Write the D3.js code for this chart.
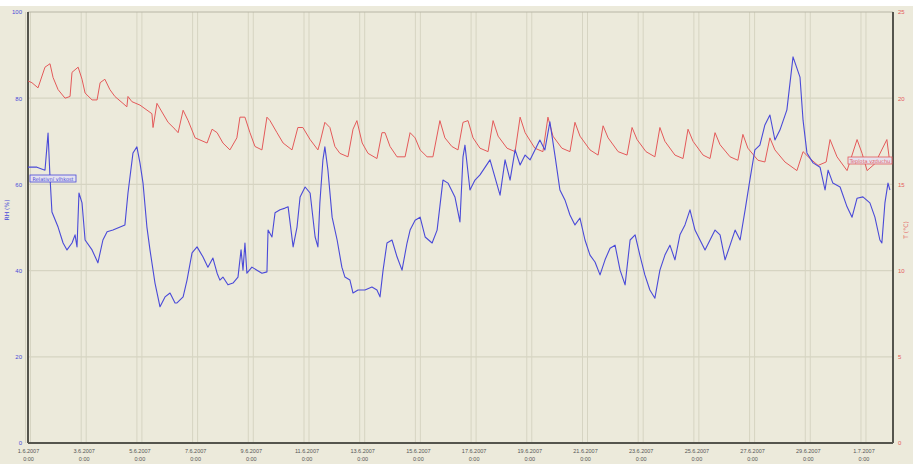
<!DOCTYPE html>
<html>
<head>
<meta charset="utf-8">
<script src="https://cdn.jsdelivr.net/npm/d3@7"></script>
<style>
  body { margin: 0; background: #ffffff; }
  svg { display: block; font-family: "DejaVu Sans", sans-serif; }
</style>
</head>
<body>
<div id="graph"></div>
<script>
// Data: time in days from 1.6.2007 0:00
const rhDays = [0.00,0.32,0.61,0.72,0.79,0.86,1.08,1.26,1.40,1.58,1.69,1.76,1.83,1.94,2.05,2.30,2.51,2.69,2.84,3.05,3.48,3.59,3.77,3.91,4.02,4.13,4.27,4.38,4.56,4.74,4.92,5.10,5.28,5.35,5.57,5.71,5.89,6.07,6.28,6.46,6.64,6.79,6.89,7.00,7.18,7.36,7.54,7.65,7.72,7.79,7.86,8.04,8.22,8.40,8.58,8.62,8.76,8.87,9.05,9.23,9.34,9.52,9.66,9.77,9.95,10.13,10.31,10.41,10.48,10.59,10.66,10.77,10.92,11.10,11.27,11.38,11.56,11.67,11.85,12.10,12.35,12.53,12.64,12.75,12.89,13.07,13.25,13.43,13.61,13.72,13.90,14.08,14.26,14.51,14.69,14.90,15.08,15.33,15.51,15.62,15.69,15.87,16.05,16.23,16.59,16.95,17.13,17.31,17.49,17.67,17.85,18.03,18.38,18.56,18.74,18.92,19.10,19.28,19.46,19.64,19.82,20.00,20.18,20.36,20.54,20.72,20.90,21.08,21.26,21.44,21.62,21.80,21.97,22.15,22.33,22.51,22.69,22.87,23.05,23.23,23.41,23.59,23.77,23.95,24.13,24.31,24.49,24.67,24.85,25.03,25.21,25.39,25.57,25.75,25.92,26.10,26.28,26.46,26.64,26.82,27.00,27.25,27.47,27.72,27.83,27.97,28.19,28.44,28.62,28.73,28.90,29.16,29.41,29.59,29.77,29.98,30.23,30.41,30.59,30.66,30.77,30.88,30.95];
const rhValues = [64.0,64.0,63.3,71.9,61.7,53.6,50.1,46.4,44.8,46.4,48.3,45.5,58.0,55.7,47.1,44.8,41.8,47.1,49.0,49.4,50.6,58.0,67.3,68.7,65.0,60.3,50.1,44.8,37.1,31.6,33.9,34.8,32.5,32.5,33.9,37.8,44.1,45.5,43.2,40.8,42.9,39.4,37.8,38.5,36.7,37.1,38.5,44.8,40.1,46.4,39.4,40.8,40.1,39.4,39.7,49.4,47.8,53.4,54.1,54.5,54.8,45.5,50.1,57.1,59.4,58.0,47.8,45.5,55.7,65.7,68.7,63.3,52.4,47.1,40.8,38.5,37.8,34.8,35.5,35.5,36.2,35.5,33.9,40.1,46.4,47.1,43.2,40.1,46.4,49.4,51.7,52.4,47.8,46.4,49.4,61.0,60.3,57.1,51.3,66.4,69.1,58.7,61.0,62.2,65.7,57.5,65.7,61.0,68.0,64.5,66.8,65.7,70.3,68.0,74.5,66.8,58.7,56.4,52.9,50.6,52.2,47.1,43.6,42.0,39.0,42.5,45.2,45.9,40.1,36.7,47.1,48.3,43.6,39.0,35.5,33.6,40.1,43.6,45.9,42.5,48.3,50.6,54.1,49.4,47.1,44.8,47.1,49.4,48.3,42.5,45.9,49.4,47.1,54.1,61.0,68.0,69.1,73.8,76.1,70.3,72.6,77.3,89.6,84.9,74.9,67.3,65.0,64.0,58.7,63.3,60.3,59.4,54.8,52.4,56.8,57.1,55.7,52.4,47.1,46.4,55.7,60.3,58.7];

const tDays = [0.00,0.14,0.36,0.61,0.79,0.90,1.08,1.33,1.51,1.58,1.80,1.94,2.05,2.30,2.48,2.59,2.76,2.94,3.12,3.41,3.55,3.59,3.73,4.02,4.45,4.49,4.63,4.81,5.03,5.28,5.39,5.57,5.75,6.00,6.43,6.61,6.79,7.00,7.25,7.50,7.61,7.79,7.97,8.15,8.40,8.58,8.69,8.94,9.16,9.48,9.69,9.87,10.13,10.41,10.48,10.66,10.84,11.02,11.20,11.49,11.67,11.81,12.00,12.21,12.53,12.71,12.82,13.00,13.25,13.54,13.72,13.90,14.08,14.33,14.54,14.79,14.97,15.22,15.44,15.62,15.80,15.98,16.23,16.52,16.70,16.88,17.20,17.49,17.67,17.85,18.20,18.49,18.67,18.85,19.17,19.46,19.64,19.82,20.18,20.47,20.65,20.83,21.19,21.51,21.69,21.87,22.19,22.51,22.69,22.87,23.23,23.52,23.70,23.88,24.24,24.49,24.67,24.85,25.21,25.49,25.67,25.85,26.21,26.46,26.64,26.82,27.18,27.61,27.83,28.08,28.37,28.66,28.80,29.05,29.41,29.77,29.95,30.13,30.41,30.84,30.95];
const tValues = [21.0,20.9,20.6,21.8,22.0,21.2,20.5,20.0,20.1,21.5,21.8,21.1,20.3,19.9,19.9,20.9,21.1,20.5,20.1,19.7,19.5,20.1,19.8,19.6,19.1,18.3,19.7,19.2,18.6,18.2,18.0,19.3,18.7,17.7,17.4,18.2,18.0,17.4,17.0,17.7,18.9,18.9,18.0,17.2,17.0,18.9,18.7,18.0,17.4,17.0,18.3,18.3,17.6,17.0,17.4,18.6,18.3,17.2,16.8,16.6,18.2,18.7,17.4,16.8,16.5,18.0,18.0,17.2,16.6,16.6,18.0,17.7,17.0,16.6,16.6,18.7,17.7,17.2,17.0,18.6,18.7,17.7,17.1,16.9,18.7,17.8,17.1,16.9,18.9,18.0,17.1,16.9,18.9,17.8,17.1,16.9,18.6,17.8,17.0,16.7,18.4,17.7,16.9,16.7,18.3,17.6,16.9,16.6,18.3,17.5,16.7,16.5,18.2,17.5,16.7,16.5,18.0,17.3,16.6,16.4,17.9,17.1,16.4,16.3,17.7,17.0,16.3,15.8,16.9,16.5,16.1,16.3,17.6,16.6,15.8,17.6,16.8,15.8,16.2,17.6,16.2];

const dateLabels = ["1.6.2007","3.6.2007","5.6.2007","7.6.2007","9.6.2007","11.6.2007","13.6.2007","15.6.2007","17.6.2007","19.6.2007","21.6.2007","23.6.2007","25.6.2007","27.6.2007","29.6.2007","1.7.2007"];
const dateTickDays = [0,2,4,6,8,10,12,14,16,18,20,22,24,26,28,30];
const rhTicks = [0,20,40,60,80,100];
const tTicks = [0,5,10,15,20,25];

const rhLabel = "RH (%)";
const tLabel = "T (°C)";
const rhLegend = "Relativní vlhkost";
const tLegend = "Teplota vzduchu";

// Rozměry
const svgWidth = 913;
const svgHeight = 464;
const plotLeft = 28, plotRight = 893, plotTop = 12, plotBottom = 443;

const blue = "#4a4ad8";
const red = "#e45a5a";
const gridColor = "#d6d4c2";

const svg = d3.select("#graph")
    .append("svg")
    .attr("width", svgWidth)
    .attr("height", svgHeight);

svg.append("rect")
    .attr("x", 0).attr("y", 6)
    .attr("width", svgWidth).attr("height", svgHeight - 6)
    .attr("fill", "#eceadb");

const xScale = d3.scaleLinear().domain([0, 31.06]).range([plotLeft, plotRight]);
const yRh = d3.scaleLinear().domain([0, 100]).range([plotBottom, plotTop]);
const yT = d3.scaleLinear().domain([0, 25]).range([plotBottom, plotTop]);

// mřížka
svg.append("g").selectAll("line")
    .data(rhTicks.slice(1, -1))
    .join("line")
    .attr("x1", plotLeft).attr("x2", plotRight)
    .attr("y1", d => yRh(d)).attr("y2", d => yRh(d))
    .attr("stroke", gridColor).attr("stroke-width", 1.2);

const vGrid = svg.append("g");
dateTickDays.forEach(d => {
    [-2.5, 2.5].forEach(off => {
        vGrid.append("line")
            .attr("x1", xScale(d) + off).attr("x2", xScale(d) + off)
            .attr("y1", plotTop).attr("y2", plotBottom)
            .attr("stroke", gridColor).attr("stroke-width", 1);
    });
});

// rámeček
svg.append("line").attr("x1", plotLeft).attr("x2", plotRight).attr("y1", plotTop).attr("y2", plotTop)
    .attr("stroke", "#b8b6a6").attr("stroke-width", 1);
svg.append("line").attr("x1", plotLeft).attr("x2", plotLeft).attr("y1", plotTop).attr("y2", plotBottom)
    .attr("stroke", "#55554d").attr("stroke-width", 2);
svg.append("line").attr("x1", plotRight).attr("x2", plotRight).attr("y1", plotTop).attr("y2", plotBottom)
    .attr("stroke", "#55554d").attr("stroke-width", 2);
svg.append("line").attr("x1", plotLeft).attr("x2", plotRight).attr("y1", plotBottom).attr("y2", plotBottom)
    .attr("stroke", "#55554d").attr("stroke-width", 2);

// osy
const leftAxis = svg.append("g")
    .attr("transform", `translate(${plotLeft - 4}, 0)`)
    .call(d3.axisLeft(yRh).tickValues(rhTicks).tickSize(0).tickPadding(2));
leftAxis.select(".domain").remove();
leftAxis.selectAll("text").attr("fill", blue).attr("font-size", 6);

const rightAxis = svg.append("g")
    .attr("transform", `translate(${plotRight + 3}, 0)`)
    .call(d3.axisRight(yT).tickValues(tTicks).tickSize(0).tickPadding(2));
rightAxis.select(".domain").remove();
rightAxis.selectAll("text").attr("fill", red).attr("font-size", 6);

const xAxis = svg.append("g")
    .attr("transform", `translate(0, ${plotBottom})`)
    .call(d3.axisBottom(xScale).tickValues(dateTickDays).tickSize(0).tickPadding(6)
        .tickFormat((d, i) => dateLabels[i]));
xAxis.select(".domain").remove();
xAxis.selectAll("text").attr("fill", "#555").attr("font-size", 5.5);
xAxis.selectAll(".tick").append("text")
    .attr("y", 18).attr("fill", "#555").attr("font-size", 5.5)
    .attr("text-anchor", "middle")
    .text("0:00");

// popisky os
svg.append("text")
    .attr("transform", `translate(9, 210) rotate(-90)`)
    .attr("text-anchor", "middle").attr("font-size", 6).attr("fill", blue)
    .text(rhLabel);
svg.append("text")
    .attr("transform", `translate(908, 230) rotate(-90)`)
    .attr("text-anchor", "middle").attr("font-size", 6).attr("fill", red)
    .text(tLabel);

// křivky
const rhData = rhDays.map((d, i) => ({ day: d, value: rhValues[i] }));
const tData = tDays.map((d, i) => ({ day: d, value: tValues[i] }));

svg.append("path")
    .datum(tData)
    .attr("fill", "none").attr("stroke", red).attr("stroke-width", 1)
    .attr("stroke-linejoin", "round")
    .attr("d", d3.line().x(d => xScale(d.day)).y(d => yT(d.value)));

svg.append("path")
    .datum(rhData)
    .attr("fill", "none").attr("stroke", blue).attr("stroke-width", 1.1)
    .attr("stroke-linejoin", "round")
    .attr("d", d3.line().x(d => xScale(d.day)).y(d => yRh(d.value)));

// legenda
function legendBox(x, y, w, color, text) {
    const g = svg.append("g").attr("transform", `translate(${x}, ${y})`);
    g.append("rect").attr("width", w).attr("height", 7)
        .attr("fill", "#e4e2ee").attr("stroke", color).attr("stroke-width", 0.8);
    g.append("text").attr("x", w / 2).attr("y", 5.5).attr("text-anchor", "middle")
        .attr("font-size", 5).attr("fill", color).text(text);
}
legendBox(30, 175, 46, blue, rhLegend);
legendBox(848, 157, 44, red, tLegend);
</script>
</body>
</html>
